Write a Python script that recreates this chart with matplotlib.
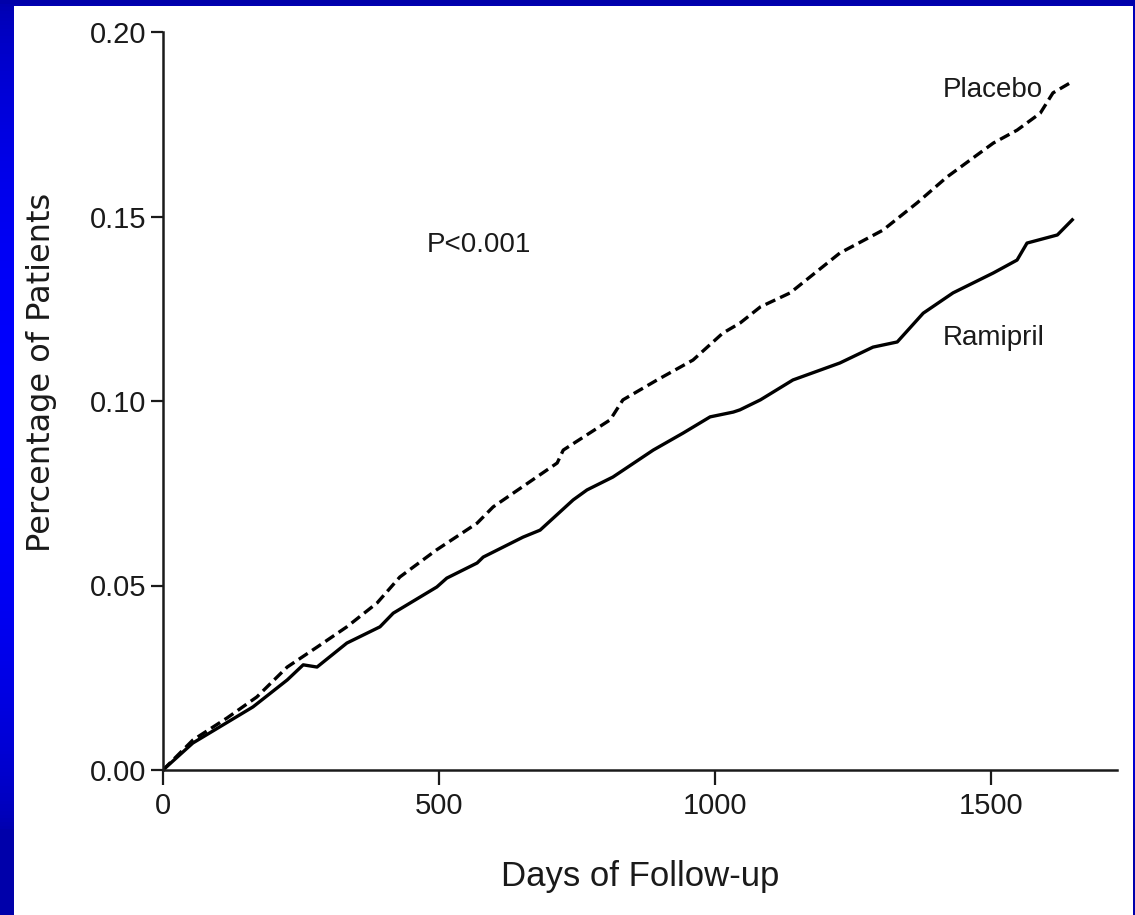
import numpy as np
import matplotlib
matplotlib.use("Agg")
import matplotlib.pyplot as plt
from matplotlib import font_manager
from matplotlib.patches import Rectangle

# Cumulative event curves (days of follow-up vs. fraction of patients)
placebo_days = [0, 54, 116, 170, 225, 279, 333, 388, 429, 495, 569, 598, 714, 725,
                810, 833, 895, 960, 1014, 1045, 1082, 1136, 1226, 1304, 1366, 1420,
                1504, 1547, 1589, 1612, 1643]
placebo_vals = [0.0, 0.0081, 0.0141, 0.0198, 0.0279, 0.0333, 0.0388, 0.0453, 0.0523,
                0.0596, 0.0669, 0.0713, 0.0832, 0.0867, 0.0949, 0.1003, 0.1057, 0.1111,
                0.1184, 0.1211, 0.1255, 0.1293, 0.1401, 0.1463, 0.1537, 0.1607, 0.1699,
                0.1734, 0.1780, 0.1835, 0.1862]

ramipril_days = [0, 54, 163, 225, 254, 279, 333, 393, 417, 496, 514, 569, 580, 652,
                 683, 743, 768, 815, 888, 942, 991, 1033, 1045, 1082, 1141, 1226, 1286,
                 1330, 1377, 1431, 1504, 1547, 1565, 1620, 1647]
ramipril_vals = [0.0, 0.0073, 0.0171, 0.0244, 0.0285, 0.0279, 0.0344, 0.0388, 0.0425,
                 0.0496, 0.0520, 0.0561, 0.0577, 0.0631, 0.0650, 0.0732, 0.0759, 0.0794,
                 0.0867, 0.0913, 0.0957, 0.0970, 0.0976, 0.1003, 0.1057, 0.1103, 0.1146,
                 0.1160, 0.1238, 0.1293, 0.1347, 0.1382, 0.1428, 0.1450, 0.1491]

x_ticks = [0, 500, 1000, 1500]
y_ticks = [0.00, 0.05, 0.10, 0.15, 0.20]
y_tick_labels = ["0.00", "0.05", "0.10", "0.15", "0.20"]

installed = {f.name for f in font_manager.fontManager.ttflist}
if "Liberation Sans Narrow" in installed:
    narrow, tick_size, note_size = "Liberation Sans Narrow", 24, 22
else:
    narrow, tick_size, note_size = "Liberation Sans", 21, 20

ink = "#1a1a1a"
W, H = 1135, 915
fig = plt.figure(figsize=(W / 100, H / 100), dpi=100)

# blue slide background with a vertical gradient
bg = fig.add_axes([0, 0, 1, 1], zorder=-10)
t = np.linspace(0, 1, 256)
blue = 0.67 + 0.33 * np.sin(np.pi * np.clip(t * 1.1, 0, 1)) ** 0.6
grad = np.zeros((256, 1, 3))
grad[:, 0, 2] = blue
bg.imshow(grad, aspect="auto", extent=[0, 1, 1, 0])
bg.set_xlim(0, 1)
bg.set_ylim(1, 0)
bg.axis("off")
bg.add_patch(Rectangle((14 / W, 6 / H), (1133 - 14) / W, 1.0,
                       facecolor="white", edgecolor="none"))

ax = fig.add_axes([163 / W, 145 / H, (1117 - 163) / W, 738 / H])
ax.patch.set_alpha(0)

ax.plot(placebo_days, placebo_vals, color="black", lw=2.4,
        linestyle=(0, (3.2, 1.6)), solid_capstyle="butt")
ax.plot(ramipril_days, ramipril_vals, color="black", lw=2.4)

ax.set_xlim(0, 1728)
ax.set_ylim(0, 0.2)
for s in ("top", "right"):
    ax.spines[s].set_visible(False)
for s in ("left", "bottom"):
    ax.spines[s].set_linewidth(1.8)
    ax.spines[s].set_color(ink)

ax.set_xticks(x_ticks)
ax.set_xticklabels([str(v) for v in x_ticks])
ax.set_yticks(y_ticks)
ax.set_yticklabels(y_tick_labels)
ax.tick_params(axis="x", length=11, width=1.6, pad=5, color=ink)
ax.tick_params(axis="y", length=9, width=1.6, pad=3, color=ink)
for lab in ax.get_xticklabels() + ax.get_yticklabels():
    lab.set_fontfamily(narrow)
    lab.set_fontsize(tick_size)
    lab.set_color(ink)

ax.text(1413, 0.1824, "Placebo", family=narrow, fontsize=note_size, color=ink,
        ha="left", va="baseline")
ax.text(1413, 0.1152, "Ramipril", family=narrow, fontsize=note_size, color=ink,
        ha="left", va="baseline")
ax.text(478, 0.1404, "P<0.001", family=narrow, fontsize=note_size, color=ink,
        ha="left", va="baseline")

fig.text(640 / W, 29 / H, "Days of Follow-up", family="Liberation Sans",
         fontsize=25, color=ink, ha="center", va="baseline")
fig.text(42 / W, 1 - 372 / H, "Percentage of Patients", family="DejaVu Sans",
         fontsize=23, color=ink, rotation=90, ha="center", va="center")

fig.savefig("out.png", dpi=100)
